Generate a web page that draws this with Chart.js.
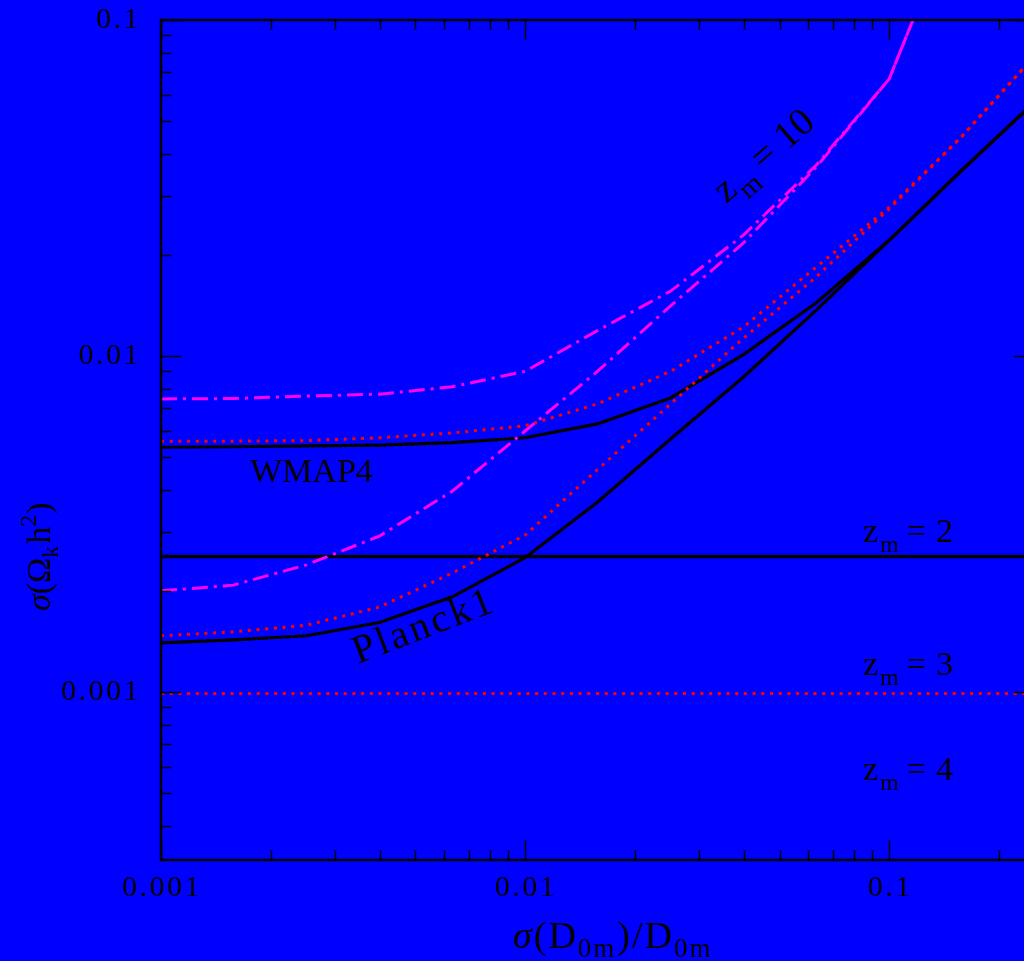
<!DOCTYPE html>
<html>
<head>
<meta charset="utf-8">
<script src="https://cdn.jsdelivr.net/npm/chart.js@4.4.1/dist/chart.umd.min.js"></script>
<style>
  html, body { margin: 0; padding: 0; background: #0000ff; overflow: hidden; }
  #wrap { width: 1024px; height: 961px; overflow: hidden; }
  canvas { display: block; }
</style>
</head>
<body>
<div id="wrap"><canvas id="fig" width="1040" height="961"></canvas></div>
<script>
// fractional distance error sigma(D)/D at which the forecasts were computed
var dErr = [0.001, 0.00158, 0.00251, 0.00398, 0.00631, 0.01, 0.0158, 0.0251, 0.0398, 0.0631, 0.1, 0.158, 0.251];

// sigma(Omega_k h^2), WMAP4 prior
var wmapZ2  = [0.00535, 0.00537, 0.0054, 0.00543, 0.00552, 0.00571, 0.00628, 0.0075, 0.0101, 0.0144, 0.0221, 0.0356, 0.057];
var wmapZ3  = [0.00558, 0.00558, 0.0056, 0.00571, 0.0059, 0.0062, 0.0072, 0.009, 0.0122, 0.0184, 0.0277, 0.0449, 0.0782];
var wmapZ10 = [0.00745, 0.00747, 0.0076, 0.0077, 0.0081, 0.009, 0.0119, 0.0156, 0.0229, 0.037, 0.0667, 0.228, null];

// sigma(Omega_k h^2), Planck1 prior
var planckZ2  = [0.0014, 0.00143, 0.00147, 0.00161, 0.00192, 0.00251, 0.00367, 0.00566, 0.00866, 0.0137, 0.0221, 0.0356, 0.057];
var planckZ3  = [0.00147, 0.00151, 0.00158, 0.00179, 0.00226, 0.00293, 0.00459, 0.0072, 0.0113, 0.0172, 0.0274, 0.0449, 0.0782];
var planckZ10 = [0.002, 0.00208, 0.00239, 0.00291, 0.00396, 0.00598, 0.009, 0.0141, 0.0217, 0.0365, 0.0667, 0.228, null];

// flat levels reached for a perfect distance
var levelZ2 = 0.00253;
var levelZ3 = 0.00099;

var xTicks = [0.001, 0.01, 0.1];
var xTickLabels = ['0.001', '0.01', '0.1'];
var yTicks = [0.001, 0.01, 0.1];
var yTickLabels = ['0.001', '0.01', '0.1'];

var xMin = 0.001, xMax = 0.25;
var yMin = Math.pow(10, -3.5), yMax = 0.1;

var SERIF = '"Liberation Serif", "DejaVu Serif", serif';

function pts(vals) {
    var out = [];
    for (var i = 0; i < dErr.length; i++) {
        if (vals[i] != null) out.push({x: dErr[i], y: vals[i]});
    }
    return out;
}

function flat(v) {
    return [{x: xMin, y: v}, {x: xMax, y: v}];
}

var BLACK = '#000000', RED = '#ff0000', MAGENTA = '#ff00ff';
var dotted = [3, 5.7];
var dashDot = [16, 6, 3, 6];

function line(data, color, dash, width) {
    return {
        data: data,
        borderColor: color,
        borderWidth: width || 3,
        borderDash: dash || [],
        borderCapStyle: 'butt',
        borderJoinStyle: 'miter',
        pointRadius: 0,
        showLine: true,
        fill: false,
        tension: 0
    };
}

// draws a run of text pieces (normal, sub and superscripts) along the baseline
function drawRuns(ctx, x, y, runs, base, spacing) {
    var cx = x;
    ctx.letterSpacing = (spacing || 0) + 'px';
    runs.forEach(function(r) {
        cx += (r.gap || 0);
        ctx.font = (r.style || '') + ' ' + Math.round(base * (r.scale || 1)) + 'px ' + SERIF;
        ctx.fillText(r.t, cx, y + (r.dy || 0) * base / 34);
        cx += ctx.measureText(r.t).width;
    });
    ctx.letterSpacing = '0px';
}

var axesAndLabels = {
    id: 'axesAndLabels',
    afterDraw: function(chart) {
        var ctx = chart.ctx, a = chart.chartArea;
        var xs = chart.scales.x, ys = chart.scales.y;
        ctx.save();
        ctx.strokeStyle = BLACK;
        ctx.fillStyle = BLACK;

        // frame
        ctx.lineWidth = 2.5;
        ctx.strokeRect(a.left, a.top, a.right - a.left, a.bottom - a.top);

        // inward ticks on all four sides
        ctx.lineWidth = 1.5;
        ctx.beginPath();
        for (var d = -4; d <= 0; d++) {
            for (var m = 1; m <= 9; m++) {
                var v = m * Math.pow(10, d);
                var len = (m == 1) ? 20 : 10;
                if (v >= xMin * 0.999 && v <= xMax) {
                    var px = Math.round(xs.getPixelForValue(v)) + 0.5;
                    ctx.moveTo(px, a.bottom); ctx.lineTo(px, a.bottom - len);
                    ctx.moveTo(px, a.top); ctx.lineTo(px, a.top + len);
                }
                if (v >= yMin && v <= yMax * 1.001) {
                    var py = Math.round(ys.getPixelForValue(v)) + 0.5;
                    ctx.moveTo(a.left, py); ctx.lineTo(a.left + len, py);
                    ctx.moveTo(a.right, py); ctx.lineTo(a.right - len, py);
                }
            }
        }
        ctx.stroke();

        // tick labels
        ctx.font = '30px ' + SERIF;
        ctx.letterSpacing = '2.5px';
        ctx.textAlign = 'right';
        ctx.textBaseline = 'middle';
        yTicks.forEach(function(v, i) {
            ctx.fillText(yTickLabels[i], a.left - 20, ys.getPixelForValue(v));
        });
        ctx.textAlign = 'center';
        xTicks.forEach(function(v, i) {
            ctx.fillText(xTickLabels[i], xs.getPixelForValue(v) + 1, a.bottom + 28);
        });
        ctx.letterSpacing = '0px';

        ctx.textAlign = 'left';
        ctx.textBaseline = 'alphabetic';

        // axis titles
        drawRuns(ctx, 513, 948, [
            {t: '\u03c3', style: 'italic'},
            {t: '(D'},
            {t: '0m', scale: 0.72, dy: 8},
            {t: ')/D', gap: 1},
            {t: '0m', scale: 0.72, dy: 8}
        ], 38, 2);

        ctx.save();
        ctx.translate(50, 611);
        ctx.rotate(-Math.PI / 2);
        drawRuns(ctx, 0, 0, [
            {t: '\u03c3', style: 'italic'},
            {t: '(\u03a9'},
            {t: 'k', scale: 0.72, dy: 8},
            {t: 'h', gap: 2},
            {t: '2', scale: 0.72, dy: -14},
            {t: ')', gap: 1}
        ], 34);
        ctx.restore();

        // curve labels
        ctx.font = '34px ' + SERIF;
        ctx.fillText('WMAP4', 250, 482);

        ctx.save();
        ctx.translate(358, 664);
        ctx.rotate(-21 * Math.PI / 180);
        ctx.font = '40px ' + SERIF;
        ctx.letterSpacing = '3px';
        ctx.fillText('Planck1', 0, 0);
        ctx.letterSpacing = '0px';
        ctx.restore();

        var zRuns = function(n) {
            return [
                {t: 'z'},
                {t: 'm', scale: 0.72, dy: 10, gap: 2},
                {t: '=', gap: 8},
                {t: n, gap: 10}
            ];
        };
        drawRuns(ctx, 863, 542, zRuns('2'), 34);
        drawRuns(ctx, 863, 675, zRuns('3'), 34);
        drawRuns(ctx, 863, 780, zRuns('4'), 34);

        ctx.save();
        ctx.translate(726, 204);
        ctx.rotate(-41 * Math.PI / 180);
        drawRuns(ctx, 0, 0, zRuns('10'), 39);
        ctx.restore();

        ctx.restore();
    }
};

var ctx = document.getElementById('fig').getContext('2d');
var chart = new Chart(ctx, {
    type: 'scatter',
    data: {
        datasets: [
            line(pts(wmapZ10), MAGENTA, dashDot, 3),
            line(pts(planckZ10), MAGENTA, dashDot, 3),
            line(pts(wmapZ3), RED, dotted, 3),
            line(pts(planckZ3), RED, dotted, 3),
            line(flat(levelZ3), RED, dotted, 3),
            line(pts(wmapZ2), BLACK, [], 3.2),
            line(pts(planckZ2), BLACK, [], 3.2),
            line(flat(levelZ2), BLACK, [], 3.4)
        ]
    },
    options: {
        responsive: false,
        animation: false,
        devicePixelRatio: 1,
        layout: { padding: { left: 161, top: 20, right: 6, bottom: 101 } },
        plugins: {
            legend: { display: false },
            tooltip: { enabled: false }
        },
        scales: {
            // keep the exact limits, no rounding to tick values
            x: { type: 'logarithmic', min: xMin, max: xMax, bounds: 'data', display: false },
            y: { type: 'logarithmic', min: yMin, max: yMax, bounds: 'data', display: false }
        }
    },
    plugins: [axesAndLabels]
});
</script>
</body>
</html>
